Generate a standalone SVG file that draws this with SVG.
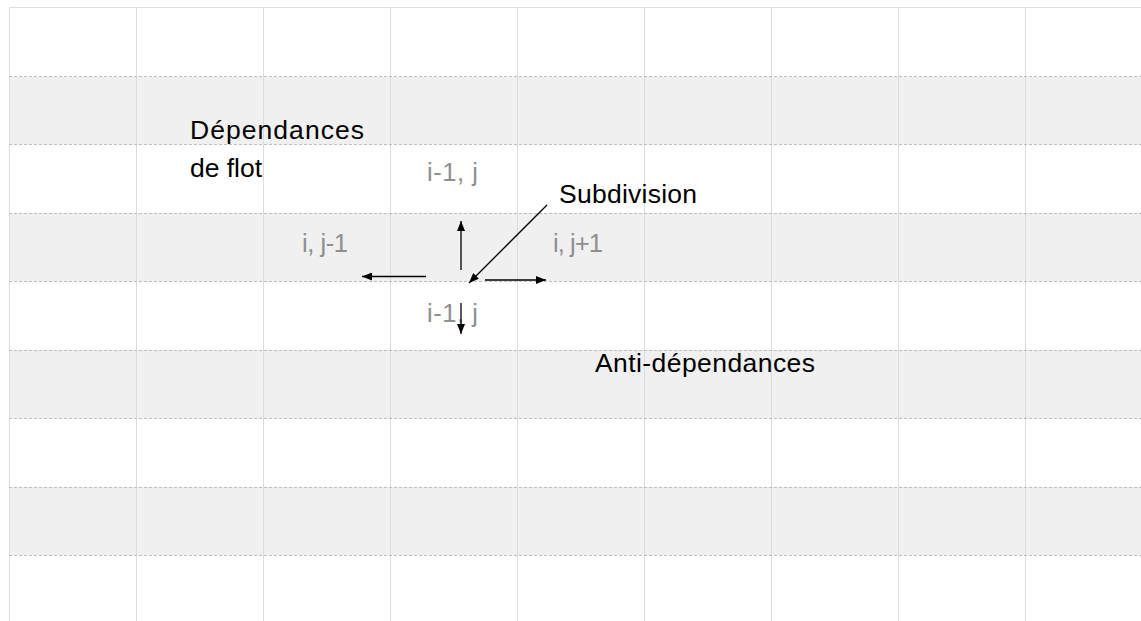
<svg xmlns="http://www.w3.org/2000/svg" width="1141" height="621" viewBox="0 0 1141 621">
  <style>
    .band { fill: #f0f0f0; }
    .vline { stroke: #dcdcdc; stroke-width: 1; }
    .hline { stroke: #bdbdbd; stroke-width: 1; stroke-dasharray: 3 2; }
    .top { stroke: #e0e0e0; stroke-width: 1; }
    .label { font-family: "Liberation Sans", Arial, sans-serif; font-size: 26.5px; fill: #000; }
    .cell { font-family: "Liberation Sans", Arial, sans-serif; font-size: 25.5px; fill: #8f8f8f; }
    .arrow { stroke: #000; stroke-width: 1.3; fill: none; marker-end: url(#ah); }
  </style>
  <defs>
    <marker id="ah" viewBox="0 0 10 8" refX="10" refY="4" markerWidth="10" markerHeight="8" markerUnits="userSpaceOnUse" orient="auto">
      <path d="M0,0 L10,4 L0,8 Z" fill="#000"/>
    </marker>
  </defs>
  <rect width="1141" height="621" fill="#fff"/>
  <g id="grid">
    <rect class="band" x="9" y="76.5" width="1132" height="68"/>
    <rect class="band" x="9" y="213" width="1132" height="68.5"/>
    <rect class="band" x="9" y="350" width="1132" height="68.5"/>
    <rect class="band" x="9" y="487" width="1132" height="68.5"/>
    <line class="top" x1="9" y1="7.5" x2="1141" y2="7.5"/>
    <line class="vline" x1="9.5" y1="7" x2="9.5" y2="621"/>
    <line class="vline" x1="136.5" y1="7" x2="136.5" y2="621"/>
    <line class="vline" x1="263.5" y1="7" x2="263.5" y2="621"/>
    <line class="vline" x1="390.5" y1="7" x2="390.5" y2="621"/>
    <line class="vline" x1="517.5" y1="7" x2="517.5" y2="621"/>
    <line class="vline" x1="644.5" y1="7" x2="644.5" y2="621"/>
    <line class="vline" x1="771.5" y1="7" x2="771.5" y2="621"/>
    <line class="vline" x1="898.5" y1="7" x2="898.5" y2="621"/>
    <line class="vline" x1="1025.5" y1="7" x2="1025.5" y2="621"/>
    <line class="hline" x1="9" y1="76.5" x2="1141" y2="76.5"/>
    <line class="hline" x1="9" y1="144.5" x2="1141" y2="144.5"/>
    <line class="hline" x1="9" y1="213.5" x2="1141" y2="213.5"/>
    <line class="hline" x1="9" y1="281.5" x2="1141" y2="281.5"/>
    <line class="hline" x1="9" y1="350.5" x2="1141" y2="350.5"/>
    <line class="hline" x1="9" y1="418.5" x2="1141" y2="418.5"/>
    <line class="hline" x1="9" y1="487.5" x2="1141" y2="487.5"/>
    <line class="hline" x1="9" y1="555.5" x2="1141" y2="555.5"/>
  </g>
  <g id="label-flow"><text class="label" x="190" y="139" textLength="174" lengthAdjust="spacing">Dépendances</text><text class="label" x="190" y="177" textLength="72" lengthAdjust="spacing">de flot</text></g>
  <g id="cell-top"><text class="cell" x="427" y="181" textLength="51" lengthAdjust="spacing">i-1, j</text></g>
  <g id="cell-left"><text class="cell" x="302" y="252" textLength="46" lengthAdjust="spacing">i, j-1</text></g>
  <g id="cell-right"><text class="cell" x="553" y="252" textLength="50" lengthAdjust="spacing">i, j+1</text></g>
  <g id="cell-bottom"><text class="cell" x="427" y="322" textLength="51" lengthAdjust="spacing">i-1, j</text></g>
  <g id="label-subdivision"><text class="label" x="559" y="203" textLength="138" lengthAdjust="spacing">Subdivision</text></g>
  <g id="label-anti"><text class="label" x="595" y="372" textLength="220" lengthAdjust="spacing">Anti-dépendances</text></g>
  <g id="connectors">
    <line class="arrow" x1="461" y1="270" x2="461" y2="221"/>
    <line class="arrow" x1="426" y1="276.5" x2="362" y2="276.5"/>
    <line class="arrow" x1="485" y1="280" x2="546" y2="280"/>
    <line class="arrow" x1="461" y1="303" x2="461" y2="334"/>
    <line class="arrow" x1="547" y1="205" x2="469" y2="283"/>
  </g>
</svg>
